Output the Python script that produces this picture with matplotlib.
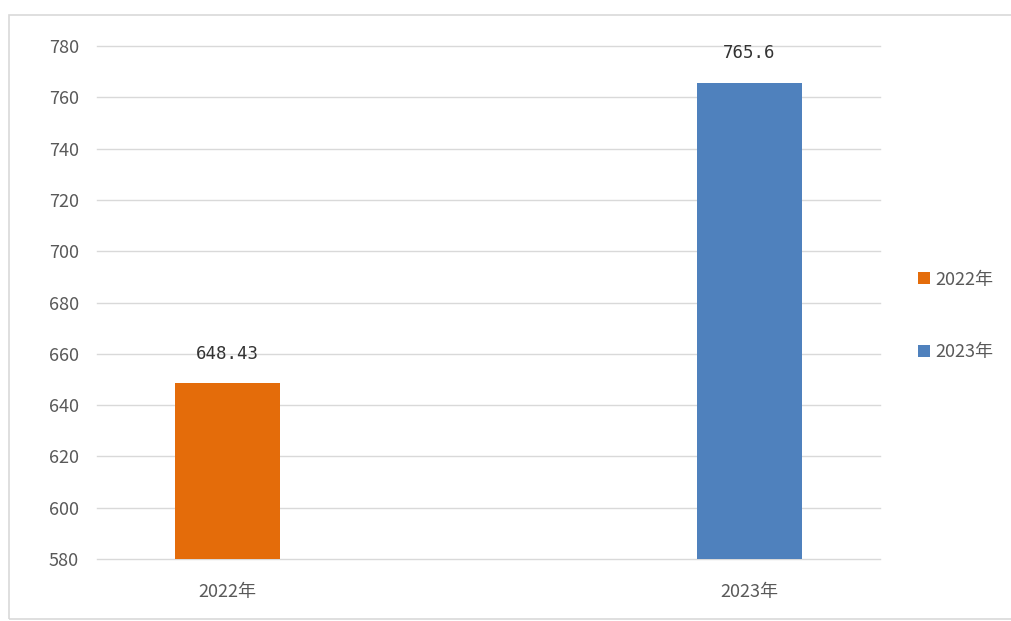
import matplotlib.pyplot as plt
from matplotlib.patches import Rectangle

plt.rcParams['font.family'] = ['Noto Sans CJK SC', 'DejaVu Sans']

categories = ['2022年', '2023年']
series = ['2022年', '2023年']
values = [648.43, 765.6]
labels = ['648.43', '765.6']
colors = ['#E46C0A', '#4F81BD']

W, H = 1011, 621
fig = plt.figure(figsize=(W / 100, H / 100), dpi=100)
fig.patches.append(Rectangle((9 / W, 1 - 619 / H), 1.2, (619 - 15) / H,
                             transform=fig.transFigure, fill=False,
                             edgecolor='#d9d9d9', linewidth=1.2))
ax = fig.add_axes([97 / W, 1 - 559 / H, (880 - 97) / W, (559 - 46) / H])

for i, (name, v, lab, c) in enumerate(zip(series, values, labels, colors)):
    ax.bar(i, v - 580, bottom=580, width=0.2, color=c, label=name, zorder=3)
    ax.text(i, v + 8, lab, ha='center', va='bottom', fontsize=12.5,
            family='DejaVu Sans Mono', color='#333333')

ax.set_xlim(-0.25, 1.25)
ax.set_ylim(580, 780)
ax.set_yticks(range(580, 781, 20))
ax.set_xticks([0, 1])
ax.set_xticklabels(categories)
ax.yaxis.grid(True, color='#d9d9d9', linewidth=1, clip_on=False)
ax.set_axisbelow(True)
for s in ax.spines.values():
    s.set_visible(False)
ax.tick_params(length=0, labelsize=13, labelcolor='#595959')
ax.tick_params(axis='y', pad=13)
ax.tick_params(axis='x', pad=17)

ax.legend(loc='center left', bbox_to_anchor=(1.028, 0.474), frameon=False,
          fontsize=13, handlelength=0.65, handleheight=0.65, handletextpad=0.3,
          labelspacing=3.0, labelcolor='#595959')

plt.savefig('out.png', dpi=100)
